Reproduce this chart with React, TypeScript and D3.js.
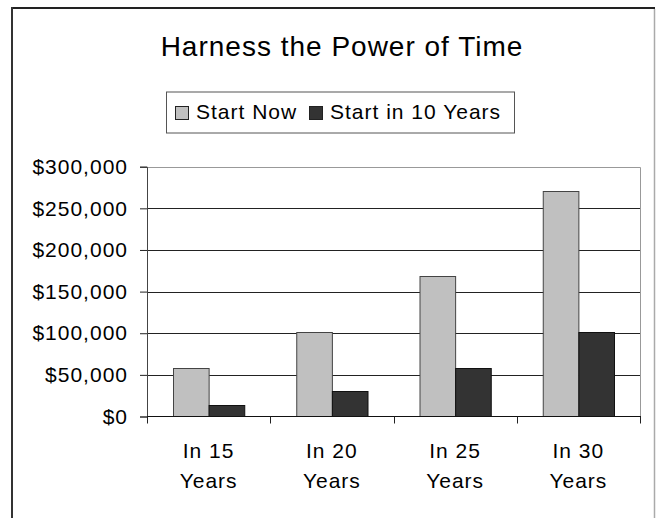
import React, { useEffect, useRef } from 'react';
import * as d3 from 'd3';

const categories = ['In 15 Years', 'In 20 Years', 'In 25 Years', 'In 30 Years'];
const seriesNames = ['Start Now', 'Start in 10 Years'];
const startNow = [58800, 101200, 168800, 271300];
const startLater = [13500, 30700, 58800, 101200];
const yTicks = [0, 50000, 100000, 150000, 200000, 250000, 300000];
const seriesColors = ['#c0c0c0', '#333333'];

const FONT = '"Liberation Sans", Arial, sans-serif';

const App = () => {
  const ref = useRef<SVGSVGElement>(null);

  useEffect(() => {
    const svg = d3.select(ref.current);
    const width = 656, height = 518;
    const plot = { left: 147, right: 640, top: 166.7, bottom: 416.5 };

    // outer chart frame (right side lighter)
    svg.append('line').attr('x1', 12).attr('x2', 655).attr('y1', 8).attr('y2', 8)
      .attr('stroke', '#222').attr('stroke-width', 2);
    svg.append('line').attr('x1', 12).attr('x2', 12).attr('y1', 7).attr('y2', height)
      .attr('stroke', '#333').attr('stroke-width', 2);
    svg.append('line').attr('x1', 654.5).attr('x2', 654.5).attr('y1', 9).attr('y2', height)
      .attr('stroke', '#aaa').attr('stroke-width', 1.5);

    // title
    svg.append('text')
      .attr('x', 342).attr('y', 55.7)
      .attr('text-anchor', 'middle')
      .style('font-family', FONT).style('font-size', '28px').style('letter-spacing', '1px')
      .attr('fill', '#000')
      .text('Harness the Power of Time');

    // legend
    const legend = svg.append('g');
    legend.append('rect').attr('x', 166.5).attr('y', 92).attr('width', 348).attr('height', 41)
      .attr('fill', '#fff').attr('stroke', '#555').attr('stroke-width', 1);
    const legendItems = [{ sx: 175.5, tx: 196 }, { sx: 309.5, tx: 330 }];
    seriesNames.forEach((name, i) => {
      legend.append('rect').attr('x', legendItems[i].sx).attr('y', 106.5).attr('width', 13).attr('height', 13)
        .attr('fill', seriesColors[i]).attr('stroke', '#222');
      legend.append('text').attr('x', legendItems[i].tx).attr('y', 119)
        .style('font-family', FONT).style('font-size', '21px').style('letter-spacing', '1px')
        .attr('fill', '#000').text(name);
    });

    const y = d3.scaleLinear().domain([0, 300000]).range([plot.bottom, plot.top]);
    const x0 = d3.scaleBand().domain(categories).range([plot.left, plot.right]).padding(0);
    const x1 = d3.scaleBand().domain(seriesNames)
      .range([26, x0.bandwidth() - 26]).padding(0);

    const g = svg.append('g');

    // gridlines
    g.selectAll('.grid')
      .data(yTicks.filter(t => t > 0 && t < 300000))
      .enter().append('line')
      .attr('x1', plot.left).attr('x2', plot.right)
      .attr('y1', d => Math.round(y(d)) + 0.5).attr('y2', d => Math.round(y(d)) + 0.5)
      .attr('stroke', '#222').attr('stroke-width', 1);

    // plot border top & right
    g.append('line').attr('x1', plot.left).attr('x2', plot.right + 0.5)
      .attr('y1', 167.5).attr('y2', 167.5).attr('stroke', '#999');
    g.append('line').attr('x1', plot.right + 0.5).attr('x2', plot.right + 0.5)
      .attr('y1', 167.5).attr('y2', plot.bottom).attr('stroke', '#999');

    // bars
    const data = categories.map((c, i) => ({ cat: c, values: [startNow[i], startLater[i]] }));
    const groups = g.selectAll('.grp').data(data).enter().append('g')
      .attr('transform', d => `translate(${x0(d.cat)},0)`);
    groups.selectAll('rect')
      .data(d => d.values.map((v, i) => ({ key: seriesNames[i], v, i })))
      .enter().append('rect')
      .attr('x', d => (x1(d.key) as number) + 0.5)
      .attr('y', d => Math.round(y(d.v)) + 0.5)
      .attr('width', x1.bandwidth())
      .attr('height', d => plot.bottom - Math.round(y(d.v)) - 0.5)
      .attr('fill', d => seriesColors[d.i])
      .attr('stroke', d => (d.i === 0 ? '#444' : '#111'))
      .attr('stroke-width', 1);

    // y axis
    const yAxis = g.append('g').attr('transform', `translate(${plot.left},0)`)
      .call(d3.axisLeft(y).tickValues(yTicks).tickSize(7).tickPadding(12)
        .tickFormat(d => '$' + d3.format(',')(d as number)));
    yAxis.select('.domain').attr('stroke', '#444');
    yAxis.selectAll('line').attr('stroke', '#222');
    yAxis.selectAll('text')
      .style('font-family', FONT).style('font-size', '21px').style('letter-spacing', '1px')
      .attr('fill', '#000');

    // x axis baseline + ticks
    g.append('line').attr('x1', plot.left).attr('x2', plot.right + 1)
      .attr('y1', plot.bottom).attr('y2', plot.bottom).attr('stroke', '#111');
    const boundaries = categories.map(c => x0(c) as number).concat([plot.right]);
    g.selectAll('.xtick').data(boundaries).enter().append('line')
      .attr('x1', d => Math.round(d) + 0.5).attr('x2', d => Math.round(d) + 0.5)
      .attr('y1', plot.bottom).attr('y2', plot.bottom + 7)
      .attr('stroke', '#222');

    // x labels on two lines
    const xl = g.selectAll('.xlab').data(categories).enter().append('text')
      .attr('text-anchor', 'middle')
      .style('font-family', FONT).style('font-size', '21px').style('letter-spacing', '1px')
      .attr('fill', '#000');
    xl.each(function (d) {
      const cx = (x0(d) as number) + x0.bandwidth() / 2;
      const parts = d.split(' ');
      const t = d3.select(this);
      t.append('tspan').attr('x', cx).attr('y', 458.3).text(parts[0] + ' ' + parts[1]);
      t.append('tspan').attr('x', cx).attr('y', 488.3).text(parts[2]);
    });

    return () => {
      svg.selectAll('*').remove();
    };
  }, []);

  return (
    <svg ref={ref} width={656} height={518}
      style={{ position: 'absolute', left: 0, top: 0, background: '#fff' }} />
  );
};

export default App;
